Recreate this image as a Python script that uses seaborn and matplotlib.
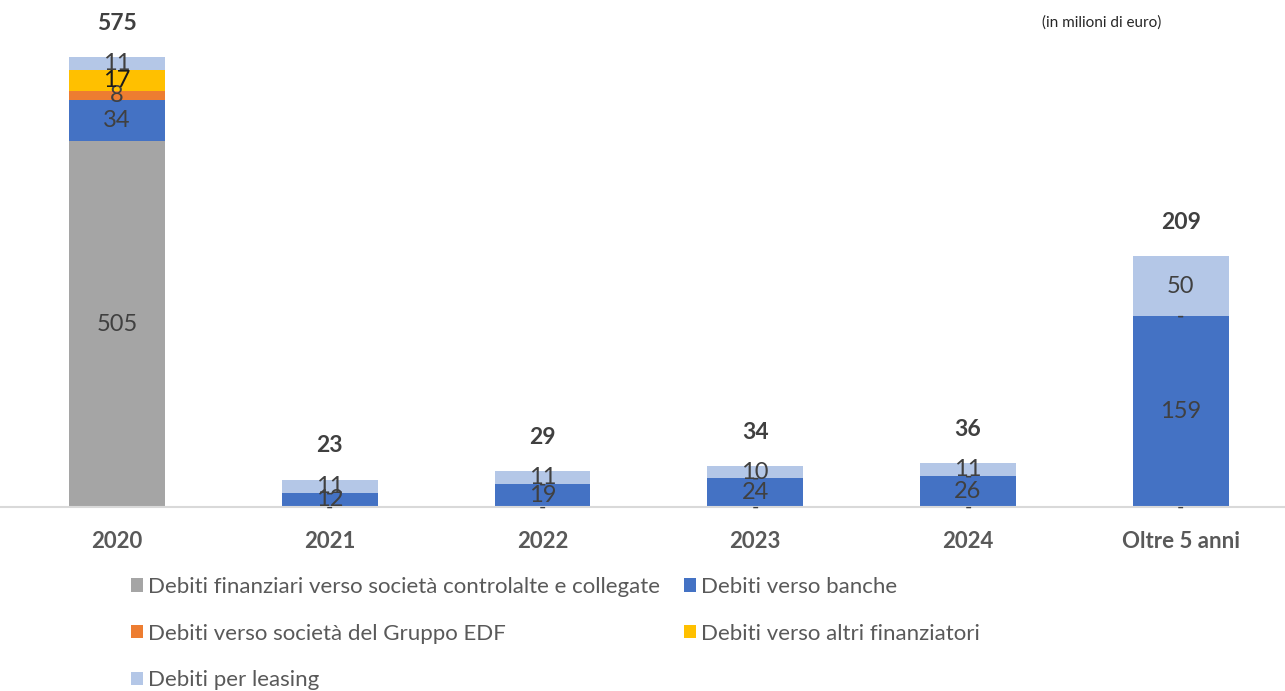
import numpy as np
import pandas as pd
import matplotlib
matplotlib.use("Agg")
import matplotlib.pyplot as plt
import seaborn as sns

# Data (in milioni di euro)
categorie = ["2020", "2021", "2022", "2023", "2024", "Oltre 5 anni"]
controllate = [505, 0, 0, 0, 0, 0]
# the source chart draws the 2020 grey bar compressed (broken scale)
controllate_disegno = [305, 0, 0, 0, 0, 0]
banche = [34, 12, 19, 24, 26, 159]
gruppo_edf = [8, 0, 0, 0, 0, 0]
altri_finanziatori = [17, 0, 0, 0, 0, 0]
leasing = [11, 11, 11, 10, 11, 50]
totali = [575, 23, 29, 34, 36, 209]

serie = [
    ("Debiti finanziari verso società controlalte e collegate", controllate, controllate_disegno, "#A5A5A5"),
    ("Debiti verso banche", banche, banche, "#4472C4"),
    ("Debiti verso società del Gruppo EDF", gruppo_edf, gruppo_edf, "#ED7D31"),
    ("Debiti verso altri finanziatori", altri_finanziatori, altri_finanziatori, "#FFC000"),
    ("Debiti per leasing", leasing, leasing, "#B4C7E7"),
]

sns.set_style("white")
plt.rcParams["font.family"] = ["Lato", "DejaVu Sans"]

fig = plt.figure(figsize=(12.85, 6.91), dpi=100)
ax = fig.add_axes([0.0, 0.266, 1.0, 0.734])

bottom = np.zeros(len(categorie))
for nome, valori, disegno, colore in serie:
    df = pd.DataFrame({"cat": categorie, "val": disegno})
    sns.barplot(data=df, x="cat", y="val", bottom=bottom, color=colore,
                width=0.45, ax=ax, saturation=1, label=nome, linewidth=0, edgecolor="none")
    for i, (v, d) in enumerate(zip(valori, disegno)):
        if v == 0:
            ax.text(i, bottom[i], "-", ha="center", va="center", fontsize=14, color="#404040")
        else:
            ax.text(i, bottom[i] + d / 2, str(v), ha="center", va="center", fontsize=17,
                    color="#1a1a1a" if colore == "#FFC000" else "#404040")
    bottom = bottom + np.array(disegno)

for i, t in enumerate(totali):
    ax.text(i, bottom[i] + 28, str(t), ha="center", va="center", fontsize=16.5,
            fontweight="bold", color="#404040")

ax.set_xlim(-0.55, 5.49)
ax.set_ylim(0, 422.5)
ax.set_xlabel("")
ax.set_ylabel("")
ax.set_yticks([])
for s in ["top", "left", "right"]:
    ax.spines[s].set_visible(False)
ax.spines["bottom"].set_color("#D9D9D9")
ax.spines["bottom"].set_linewidth(1.5)
ax.tick_params(axis="x", length=0, pad=17)
for lab in ax.get_xticklabels():
    lab.set_fontsize(16)
    lab.set_fontweight("bold")
    lab.set_color("#595959")

fig.text(0.811, 0.968, "(in milioni di euro)", fontsize=11, color="#262626", va="center")

# legend order so that ncol=2 reads row by row like the original
h, l = ax.get_legend_handles_labels()
ordine = [0, 2, 4, 1, 3]
leg = fig.legend([h[k] for k in ordine], [l[k] for k in ordine], ncol=2,
                 loc="upper left", bbox_to_anchor=(0.086, 0.194), frameon=False,
                 fontsize=16, handlelength=0.55, handleheight=0.55, handletextpad=0.25,
                 columnspacing=1.05, labelspacing=1.2, labelcolor="#595959")
if ax.get_legend() is not None:
    ax.get_legend().remove()

fig.savefig("out.png", dpi=100)
